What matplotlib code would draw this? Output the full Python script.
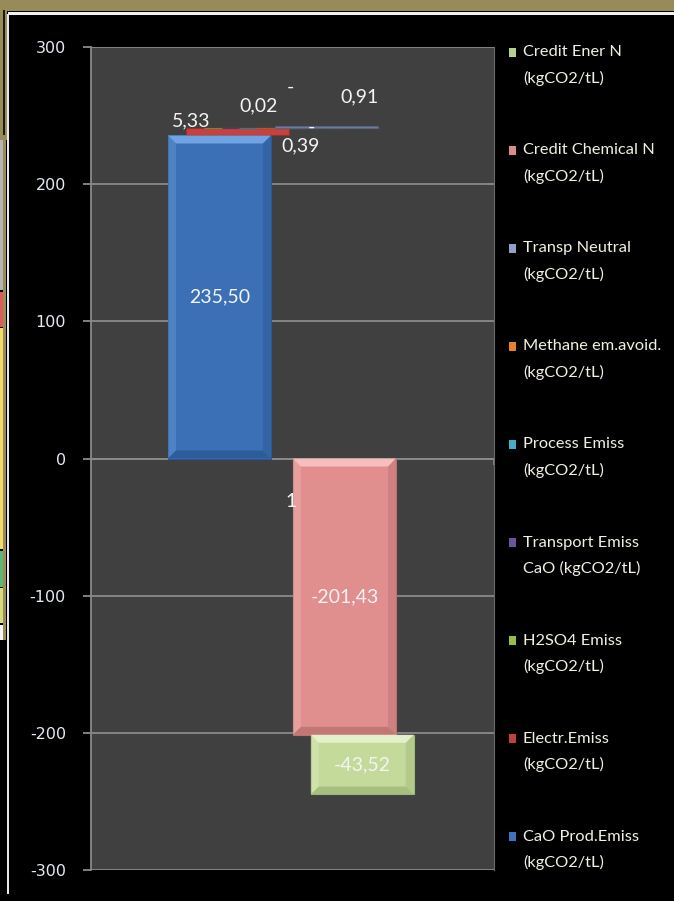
import matplotlib.pyplot as plt
from matplotlib.patches import Rectangle, Polygon

plt.rcParams["axes.unicode_minus"] = False

W, H = 674, 901

series = ["CaO Prod.Emiss", "Electr.Emiss", "H2SO4 Emiss", "Transport Emiss CaO",
          "Process Emiss", "Methane em.avoid.", "Transp Neutral",
          "Credit Chemical N", "Credit Ener N"]
values = [235.50, 5.33, 0.02, 0.39, 0.0, 0.0, 0.91, -201.43, -43.52]
unit = "(kgCO2/tL)"

# face, light bevel, dark bevel, legend swatch
colors = {
    "CaO Prod.Emiss": ("#3b70b6", "#74a6e4", "#2b5894", "#3e73bd"),
    "Electr.Emiss": ("#c8403f", "#e07070", "#9a2f2e", "#c4403e"),
    "H2SO4 Emiss": ("#8fae48", "#b5d07a", "#6f8a33", "#98bb4e"),
    "Transport Emiss CaO": ("#6a5090", "#9078b5", "#4d3a6c", "#6c5594"),
    "Process Emiss": ("#3aa3c0", "#70c4db", "#2a7f97", "#45adc9"),
    "Methane em.avoid.": ("#e07b27", "#f3a560", "#b05d18", "#e58030"),
    "Transp Neutral": ("#6f80a3", "#96a8c8", "#56627e", "#8fa2c6"),
    "Credit Chemical N": ("#e08f8e", "#f8c2c1", "#b97171", "#d98e8c"),
    "Credit Ener N": ("#c4da9a", "#e6f2cc", "#a0b877", "#b8d18a"),
}

legend_order = series[::-1]

fig = plt.figure(figsize=(W / 100, H / 100), dpi=100, facecolor="black")


def px_rect(x, y, w, h, color, z=0):
    fig.patches.append(Rectangle((x / W, 1 - (y + h) / H), w / W, h / H,
                                 transform=fig.transFigure, facecolor=color,
                                 edgecolor="none", zorder=z))


# spreadsheet frame around the chart object
px_rect(0, 0, W, 11, "#978b58")
px_rect(8, 12, W - 8, 3, "#f2f2f2")
px_rect(0, 0, 7, 140, "#978b58")
px_rect(3, 10, 1.5, 125, "#1a1a1a")
cells = [(140, 290, "#b4b4b4"), (292, 327, "#e05a5a"), (328, 549, "#f2dc6a"),
         (551, 587, "#5cb870"), (588, 623, "#d5dc78"), (625, 640, "#f4f4f4")]
for top, bot, c in cells:
    px_rect(0, top, 3, bot - top, c)
px_rect(3, 140, 3, 500, "#978b58")
px_rect(7, 14, 2, 880, "#e8e8e8")

ax = fig.add_axes([91 / W, 1 - 870 / H, 403 / W, 823 / H])
ax.set_facecolor("#404040")
ax.set_xlim(0, 1)
ax.set_ylim(-300, 300)
ax.set_yticks(range(-300, 301, 100))
ax.set_xticks([])
ax.yaxis.grid(True, color="#8a8a8a", lw=1.3)
ax.set_axisbelow(True)
for s in ["top", "bottom"]:
    ax.spines[s].set_visible(False)
ax.spines["left"].set_color("#8a8a8a")
ax.spines["left"].set_linewidth(1.3)
ax.spines["right"].set_color("#6a6a6a")
ax.tick_params(axis="y", colors="#8a8a8a", length=6, width=1.3, pad=12,
               labelcolor="#e4e9f2", labelsize=11.5)
for t in ax.get_yticklabels():
    t.set_fontfamily("DejaVu Sans")

# category axis at zero
ax.axhline(0, color="#8a8a8a", lw=1.3, zorder=1)
ax.vlines([1.0], -5, 0, color="#8a8a8a", lw=1.3, zorder=1)

x0, step, width = 0.191, 0.0443, 0.2556
ppx = 403.0            # pixels per x unit
ppy = 823.0 / 600.0    # pixels per y unit


def bevel_bar(x, lo, hi, w, face, light, dark):
    ax.bar(x, hi - lo, bottom=lo, width=w, align="edge", color=face,
           edgecolor=dark, linewidth=0.8, zorder=3)
    bx = 8 / ppx
    by = 8 / ppy
    if hi - lo < 3 * by:
        return
    L, R, B, T = x, x + w, lo, hi
    shapes = [
        ([(L, T), (R, T), (R - bx, T - by), (L + bx, T - by)], light, 0.95),
        ([(L, B), (L, T), (L + bx, T - by), (L + bx, B + by)], light, 0.35),
        ([(R, B), (R, T), (R - bx, T - by), (R - bx, B + by)], dark, 0.45),
        ([(L, B), (R, B), (R - bx, B + by), (L + bx, B + by)], dark, 0.8),
    ]
    for pts, c, a in shapes:
        ax.add_patch(Polygon(pts, closed=True, facecolor=c, edgecolor="none",
                             alpha=a, zorder=4))


pos_base, neg_base = 0.0, 0.0
mids = {}
for i, (name, v) in enumerate(zip(series, values)):
    face, light, dark, _ = colors[name]
    x = x0 + i * step
    if v >= 0:
        lo, hi = pos_base, pos_base + v
        pos_base = hi
    else:
        lo, hi = neg_base + v, neg_base
        neg_base = lo
    bevel_bar(x, lo, hi, width, face, light, dark)
    mids[name] = (x + width / 2, (lo + hi) / 2)

label_font = dict(family=["Lato", "DejaVu Sans"], color="#f4f4f4", fontsize=14,
                  ha="center", va="center", zorder=6)


def fmt(v):
    if v == 0:
        return "-"
    return f"{v:.2f}".replace(".", ",")


# big segments carry their labels in the middle of the bar
for name, v in zip(series, values):
    if abs(v) > 20:
        mx, my = mids[name]
        ax.text(mx, my, fmt(v), **label_font)

# small segments at the top of the positive stack, labels moved apart
small_pos = {
    "Electr.Emiss": (0.248, 246.4),
    "H2SO4 Emiss": (0.417, 257.3),
    "Process Emiss": (0.494, 270.5),
    "Transp Neutral": (0.667, 263.9),
    "Methane em.avoid.": (0.546, 241.3),
    "Transport Emiss CaO": (0.521, 228.2),
}
for name, (tx, ty) in small_pos.items():
    ax.text(tx, ty, fmt(values[series.index(name)]), **label_font)
ax.text(0.496, -31.3, "1", **label_font)

# legend
leg_font = dict(family=["Lato", "DejaVu Sans"], color="#f2f0e2", fontsize=11.8,
                va="center", ha="left")
for k, name in enumerate(legend_order):
    y1 = 52 + k * 98.1
    swatch = colors[name][3]
    px_rect(509, y1 - 4.5, 7, 9, swatch, z=3)
    if name == "Transport Emiss CaO":
        first, second = "Transport Emiss", "CaO " + unit
    else:
        first, second = name, unit
    fig.text(523 / W, 1 - y1 / H, first, **leg_font)
    fig.text(523 / W, 1 - (y1 + 26) / H, second, **leg_font)

fig.savefig("out.png", dpi=100, facecolor="black")
